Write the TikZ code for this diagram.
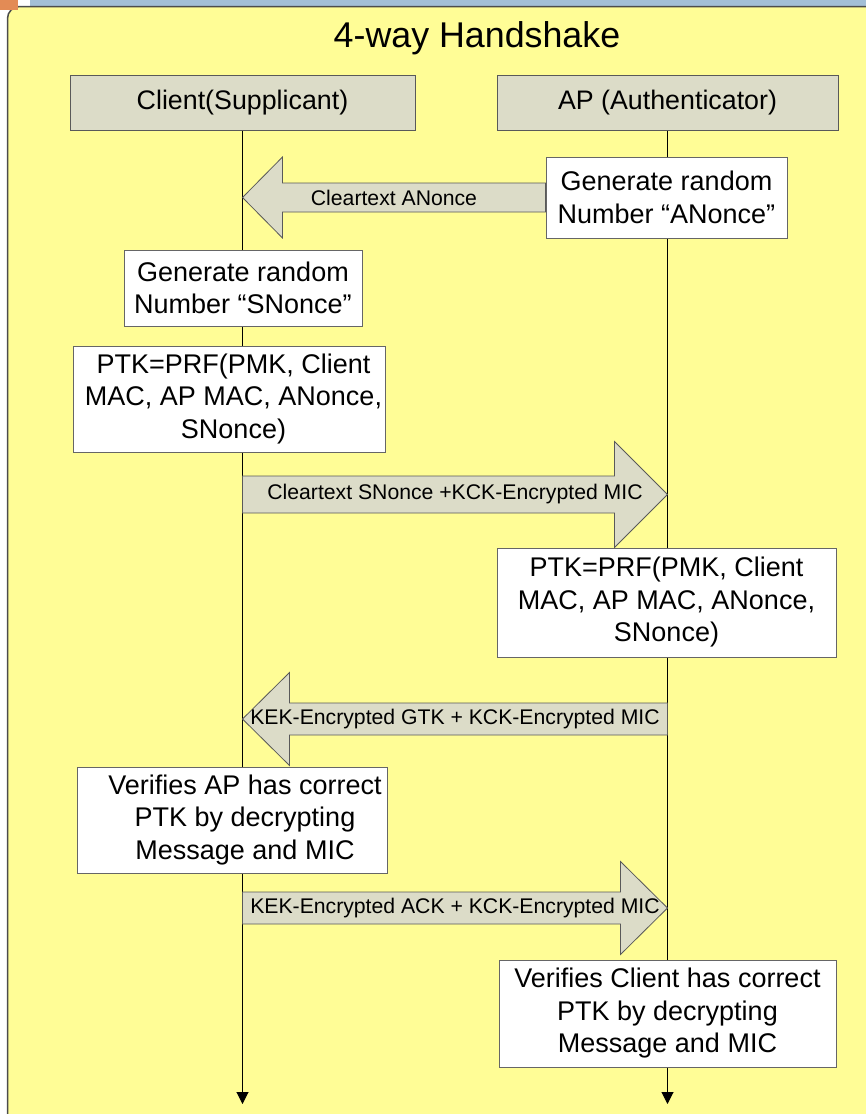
\documentclass[tikz,border=0pt]{standalone}
\usepackage{fontspec}
\setmainfont{Liberation Sans}
\usetikzlibrary{calc,arrows.meta}
\definecolor{panelyellow}{HTML}{FFFD96}
\definecolor{hdrfill}{HTML}{DCDCC8}
\definecolor{topblue}{HTML}{A3BFD6}
\definecolor{cornerorange}{HTML}{E38B55}
\tikzset{
  header/.style={draw=black!65, fill=hdrfill, line width=1pt, minimum height=55pt, inner sep=0pt, font=\fontsize{26.8}{31}\selectfont},
  stepbox/.style={draw=black!60, fill=white, line width=1pt, align=center, inner sep=0pt, font=\fontsize{27}{32.5}\selectfont},
  msgarrow/.style={draw=black!65, fill=hdrfill, line width=0.8pt},
  msglabel/.style={font=\fontsize{21.2}{24}\selectfont, inner sep=0pt},
  lifeline/.style={line width=1pt, -{Triangle[width=12pt,length=12pt]}}
}
% block arrow: from, to, shaft half height, head half height, head length, label
\newcommand{\msg}[6]{%
  \draw[msgarrow] let \p1=(#1), \p2=(#2), \n1={sign(\x2-\x1)} in
    (\x1,{\y1+#3}) -- ({\x2-(\n1)*#5},{\y1+#3}) -- ({\x2-(\n1)*#5},{\y1+#4})
    -- (\x2,\y1) -- ({\x2-(\n1)*#5},{\y1-#4}) -- ({\x2-(\n1)*#5},{\y1-#3})
    -- (\x1,{\y1-#3}) -- cycle;
  \node[msglabel] at ($(#1)!0.5!(#2)$) {#6};
}
% text block pushed right inside its box
\newcommand{\shifted}[2]{\hspace*{#1}\begin{tabular}{@{}c@{}}#2\end{tabular}}
\begin{document}
\begin{tikzpicture}[x=1pt,y=-1pt]
  \useasboundingbox (0,0) rectangle (866,1114);
  \clip (0,0) rectangle (866,1114);
  % frame
  \fill[topblue] (30,0) rectangle (866,6.5);
  \filldraw[fill=panelyellow, draw=black!70, line width=1.5pt, rounded corners=12pt] (7.5,6.5) rectangle (900,1150);
  \fill[cornerorange] (0,0) rectangle (18,10);
  \node[font=\fontsize{35.8}{40}\selectfont] (title) at (477,38) {4-way Handshake};
  % parties
  \node[header, minimum width=345pt] (client) at (242.5,102.5) {Client(Supplicant)};
  \node[header, minimum width=341pt] (ap) at (667.5,102.5) {AP (Authenticator)};
  \coordinate (clientEnd) at (242.5,1104);
  \coordinate (apEnd) at (667.5,1104);
  \draw[lifeline] (client.south) -- (clientEnd);
  \draw[lifeline] (ap.south) -- (apEnd);
  % steps
  \node[stepbox, minimum width=241pt, minimum height=81pt] (anonce) at (666.5,197.5) {Generate random\\Number “ANonce”};
  \node[stepbox, minimum width=238pt, minimum height=76pt] (snonce) at (243,288) {Generate random\\Number “SNonce”};
  \node[stepbox, minimum width=312pt, minimum height=106pt] (ptkclient) at (229,399) {\shifted{9pt}{PTK=PRF(PMK, Client\\MAC, AP MAC, ANonce,\\SNonce)}};
  \node[stepbox, minimum width=339pt, minimum height=109pt] (ptkap) at (666.5,602.5) {PTK=PRF(PMK, Client\\MAC, AP MAC, ANonce,\\SNonce)};
  \node[stepbox, minimum width=310pt, minimum height=106pt] (verifyap) at (232,820) {\shifted{26pt}{Verifies AP has correct\\PTK by decrypting\\Message and MIC}};
  \node[stepbox, minimum width=337pt, minimum height=107pt] (verifyclient) at (667.5,1013.5) {Verifies Client has correct\\PTK by decrypting\\Message and MIC};
  % messages
  \coordinate (m1to) at (client.south |- anonce.west);
  \coordinate (m2from) at (242.5,494.5);
  \coordinate (m2to) at (ap.south |- m2from);
  \coordinate (m3from) at (667.5,719);
  \coordinate (m3to) at (client.south |- m3from);
  \coordinate (m4from) at (242.5,908);
  \coordinate (m4to) at (ap.south |- m4from);
  \msg{anonce.west}{m1to}{14.5pt}{40.5pt}{40pt}{Cleartext ANonce}
  \msg{m2from}{m2to}{18.5pt}{53pt}{53pt}{Cleartext SNonce +KCK-Encrypted MIC}
  \msg{m3from}{m3to}{16pt}{46.5pt}{47pt}{KEK-Encrypted GTK + KCK-Encrypted MIC}
  \msg{m4from}{m4to}{16pt}{46.5pt}{47pt}{KEK-Encrypted ACK + KCK-Encrypted MIC}
\end{tikzpicture}
\end{document}
